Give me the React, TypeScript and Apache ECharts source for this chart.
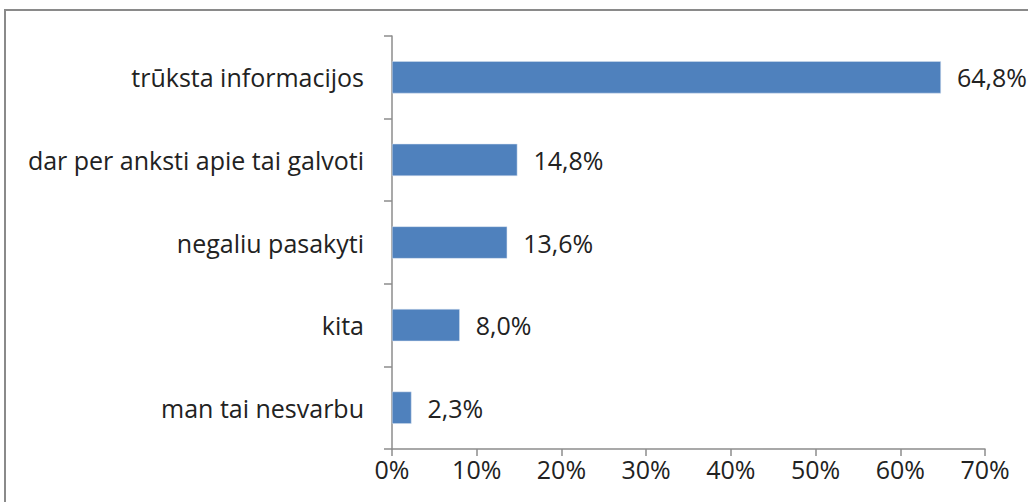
import React, { useEffect, useRef } from "react";
import * as echarts from "echarts";

const categories = [
  "trūksta informacijos",
  "dar per anksti apie tai galvoti",
  "negaliu pasakyti",
  "kita",
  "man tai nesvarbu",
];
const values = [64.8, 14.8, 13.6, 8.0, 2.3];
const xTicks = [0, 10, 20, 30, 40, 50, 60, 70];

const FONT = "Open Sans";
const FS = 25;

export default function App() {
  const ref = useRef<HTMLDivElement>(null);
  useEffect(() => {
    document.body.style.margin = "0";
    const chart = echarts.init(ref.current!, null, { renderer: "svg" });
    chart.setOption({
      animation: false,
      backgroundColor: "#ffffff",
      graphic: [
        {
          type: "rect",
          shape: { x: 5, y: 10, width: 1200, height: 700 },
          style: { fill: "none", stroke: "#8a8a8a", lineWidth: 2 },
          silent: true,
        },
      ],
      grid: { left: 392, right: 43, top: 36, bottom: 53, containLabel: false },
      xAxis: {
        type: "value",
        min: xTicks[0],
        max: xTicks[xTicks.length - 1],
        interval: 10,
        axisLine: { show: true, lineStyle: { color: "#8c8c8c", width: 1.5 } },
        axisTick: { show: true, length: 7, lineStyle: { color: "#8c8c8c", width: 1.5 } },
        splitLine: { show: false },
        axisLabel: {
          formatter: (v: number) => `${v}%`,
          color: "#222",
          fontFamily: FONT,
          fontSize: FS,
          margin: 7,
        },
      },
      yAxis: {
        type: "category",
        inverse: true,
        data: categories,
        axisLine: { show: true, lineStyle: { color: "#8c8c8c", width: 1.5 } },
        axisTick: { show: true, length: 8, alignWithLabel: false, lineStyle: { color: "#8c8c8c", width: 1.5 } },
        axisLabel: {
          color: "#222",
          fontFamily: FONT,
          fontSize: FS,
          margin: 28,
        },
      },
      series: [
        {
          type: "bar",
          data: values,
          barCategoryGap: "61%",
          itemStyle: { color: "#4F81BD", borderColor: "#d9e2f0", borderWidth: 0.5 },
          label: {
            show: true,
            position: "right",
            distance: 16,
            formatter: (p: any) => `${p.value.toFixed(1).replace(".", ",")}%`,
            color: "#222",
            fontFamily: FONT,
            fontSize: FS,
          },
        },
      ],
    });
    return () => chart.dispose();
  }, []);
  return (
    <div
      ref={ref}
      style={{ position: "absolute", left: 0, top: 0, width: 1028, height: 502 }}
    />
  );
}
